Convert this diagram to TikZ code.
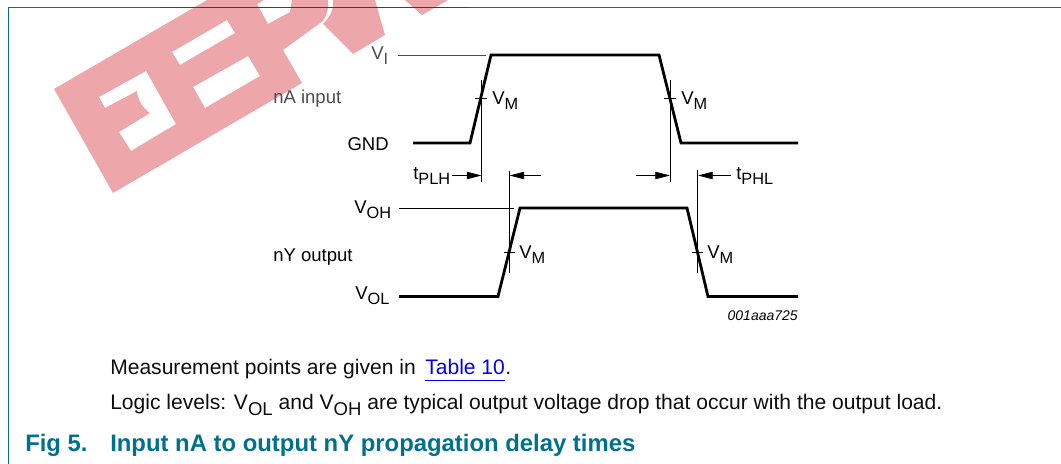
\documentclass[tikz,border=0pt]{standalone}
\usepackage{fontspec}
\setmainfont{Liberation Sans}
\usetikzlibrary{arrows.meta}
\definecolor{teal5}{HTML}{00708C}
\definecolor{wm}{HTML}{EDA6AA}
\definecolor{lnk}{HTML}{0000EE}
\newcommand{\lowsub}[1]{\raisebox{-.3em}{\scalebox{.88}{#1}}}
\tikzset{
  lbl/.style={inner sep=0pt,anchor=base west,font=\fontsize{13.9pt}{16pt}\selectfont,text=black},
  lble/.style={lbl,anchor=base east},
  dim/.style={text=black!70},
  body/.style={inner sep=0pt,anchor=base west,font=\fontsize{15.8pt}{18pt}\selectfont,text=black!95},
  capt/.style={inner sep=0pt,anchor=base west,font=\fontsize{17.9pt}{20pt}\selectfont\bfseries,text=teal5},
  wave/.style={draw=black,line width=2.1pt,line join=miter},
  thin/.style={draw=black,line width=0.6pt},
  dimarrow/.style={thin,-{Triangle[length=11pt,width=5.5pt]}},
  frame/.style={draw=teal5,line width=0.9pt},
}
\begin{document}
\begin{tikzpicture}[x=0.75pt,y=-0.75pt]
\useasboundingbox (0,0) rectangle (1061,464);
% watermark
\fill[wm,even odd rule]
  (54,89) -- (113,193) -- (302,83) -- (283,50) -- (323,21) .. controls (327,15) and (329,8) .. (328,0) -- (207,0) -- cycle
  (99,97) -- (105,108) -- (137,91) .. controls (137,97) and (142,108) .. (150,113) -- (119,132) -- (131,151) -- (176,124) -- (146,71) -- cycle
  (172,52) -- (180,65) -- (235,33) -- (227,20) -- cycle
  (193,87) -- (205,108) -- (260,76) -- (248,56) -- cycle
  (257,4) -- (268,24) -- (290,12) -- (292,0) -- (264,0) -- cycle;
\fill[wm] (323,24) -- (353,54) -- (385,35) -- (375,0) -- (333,0) .. controls (334,8) and (331,16) .. (323,24) -- cycle;
\fill[wm] (405,0) -- (422,15) -- (448,0) -- cycle;
% frame
\coordinate (fa) at (8.5,464);
\coordinate (fb) at (8.5,7.5);
\coordinate (fc) at (160,7.5);
\coordinate (fd) at (468,7.5);
\coordinate (fe) at (1061,7.5);
\draw[frame] (fa) -- (fb) -- (fc);
\draw[frame,draw=teal5!55!white] (fc) -- (fd);
\draw[draw=black!75,line width=0.5pt] (fc) -- (fd);
\draw[frame] (fd) -- (fe);
% waveforms
\coordinate (a1) at (413,143);
\coordinate (a2) at (470,143);
\coordinate (a3) at (491,55);
\coordinate (a4) at (659,55);
\coordinate (a5) at (681,143);
\coordinate (a6) at (798,143);
\draw[wave] (a1) -- (a2) -- (a3) -- (a4) -- (a5) -- (a6);
\coordinate (b1) at (399,296.5);
\coordinate (b2) at (498,296.5);
\coordinate (b3) at (520,208);
\coordinate (b4) at (687,208);
\coordinate (b5) at (708,296.5);
\coordinate (b6) at (798,296.5);
\draw[wave] (b1) -- (b2) -- (b3) -- (b4) -- (b5) -- (b6);
% level lines
\coordinate (vi1) at (398,55.5);
\coordinate (vi2) at (486,55.5);
\draw[thin,draw=black!70] (vi1) -- (vi2);
\coordinate (vo1) at (399,208);
\coordinate (vo2) at (514,208);
\draw[thin] (vo1) -- (vo2);
% verticals
\coordinate (v1a) at (481.5,80);
\coordinate (v1b) at (481.5,182);
\draw[thin] (v1a) -- (v1b);
\coordinate (v2a) at (670,80);
\coordinate (v2b) at (670,182);
\draw[thin] (v2a) -- (v2b);
\coordinate (v3a) at (509,171);
\coordinate (v3b) at (509,273);
\draw[thin] (v3a) -- (v3b);
\coordinate (v4a) at (697.5,170);
\coordinate (v4b) at (697.5,273);
\draw[thin] (v4a) -- (v4b);
% ticks
\coordinate (t1a) at (475,98.5);
\coordinate (t1b) at (487,98.5);
\draw[thin] (t1a) -- (t1b);
\coordinate (t2a) at (664,98.5);
\coordinate (t2b) at (676,98.5);
\draw[thin] (t2a) -- (t2b);
\coordinate (t3a) at (504,252);
\coordinate (t3b) at (515,252);
\draw[thin] (t3a) -- (t3b);
\coordinate (t4a) at (692,252);
\coordinate (t4b) at (703,252);
\draw[thin] (t4a) -- (t4b);
% dimension arrows
\coordinate (d1s) at (452,175.5);
\coordinate (d1e) at (481.5,175.5);
\draw[dimarrow] (d1s) -- (d1e);
\coordinate (d2s) at (541,175.5);
\coordinate (d2e) at (509.5,175.5);
\draw[dimarrow] (d2s) -- (d2e);
\coordinate (d3s) at (636,175.5);
\coordinate (d3e) at (670,175.5);
\draw[dimarrow] (d3s) -- (d3e);
\coordinate (d4s) at (731,175.5);
\coordinate (d4e) at (698,175.5);
\draw[dimarrow] (d4s) -- (d4e);
% labels
\node[lbl,dim] (lvi) at (371,59) {V\lowsub{I}};
\node[lbl,dim] (lna) at (273,103) {nA input};
\node[lble] (lgnd) at (389,150) {GND};
\node[lbl] (lvm1) at (492,104) {V\lowsub{M}};
\node[lbl] (lvm2) at (681,104) {V\lowsub{M}};
\node[lbl] (lplh) at (413,179) {t\lowsub{PLH}};
\node[lbl] (lphl) at (736,179) {t\lowsub{PHL}};
\node[lbl] (lvoh) at (354,213) {V\lowsub{OH}};
\node[lbl] (lny) at (273,261) {nY output};
\node[lbl] (lvm3) at (519,258) {V\lowsub{M}};
\node[lbl] (lvm4) at (707,258) {V\lowsub{M}};
\node[lbl] (lvol) at (355,299) {V\lowsub{OL}};
\node[inner sep=0pt,anchor=base east,font=\fontsize{10.5pt}{12pt}\selectfont\itshape] (lid) at (798,320) {001aaa725};
% text
\node[body] (tm) at (110,374) {Measurement points are given in};
\node[body,text=lnk] (tt) at (425,374) {Table 10};
\node[body] (tp) at (505,374) {.};
\coordinate (u1) at (425,380);
\coordinate (u2) at (505,380);
\draw[draw=lnk,line width=0.75pt] (u1) -- (u2);
\node[body] (tl) at (110,409) {Logic levels: V\lowsub{OL} and V\lowsub{OH} are typical output voltage drop that occur with the output load.};
\node[capt] (cf) at (25,451) {Fig 5.};
\node[capt] (ct) at (110,451) {Input nA to output nY propagation delay times};
\end{tikzpicture}
\end{document}
